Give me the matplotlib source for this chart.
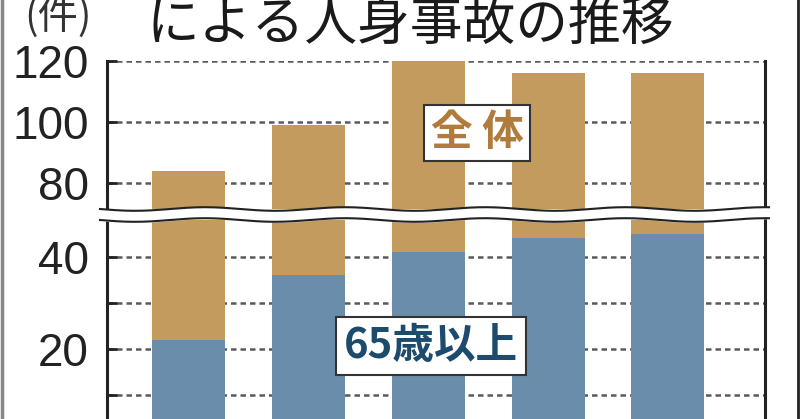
#!/usr/bin/env python3
# 高齢ドライバーによる人身事故の推移 (broken y axis, stacked bars)
import numpy as np
import matplotlib
matplotlib.use('Agg')
import matplotlib.pyplot as plt

plt.rcParams['font.family'] = ['Noto Sans CJK JP', 'DejaVu Sans']

# data
positions = [0, 1, 2, 3, 4]
total = [84, 99, 120, 116, 116]
seniors = [22, 36, 41, 44, 45]
upper_ticks = [80, 100, 120]
lower_ticks = [0, 10, 20, 30, 40]
lower_labels = ['', '', '20', '', '40']

tan = '#c49b5f'
blue = '#6a8dab'
num_font = ['Liberation Sans', 'DejaVu Sans']

W, H = 800, 419
fig = plt.figure(figsize=(8, 4.19), dpi=100)

def px_axes(x0, y0, x1, y1):
    # pixel box (top-left origin) -> figure fraction
    return [x0 / W, 1 - y1 / H, (x1 - x0) / W, (y1 - y0) / H]

ax_top = fig.add_axes(px_axes(107, 61, 765, 209))
ax_bot = fig.add_axes(px_axes(107, 220, 765, 441))

for ax in (ax_top, ax_bot):
    ax.bar(positions, seniors, width=0.61, color=blue, zorder=2)
    ax.bar(positions, np.array(total) - np.array(seniors), bottom=seniors,
           width=0.61, color=tan, zorder=2)
    ax.set_xlim(-0.68, 4.81)
    ax.set_xticks([])
    ax.spines['top'].set_visible(False)
    ax.spines['bottom'].set_visible(False)
    for s in ('left', 'right'):
        ax.spines[s].set_linewidth(2.2)
        ax.spines[s].set_color('#222222')
    ax.grid(axis='y', color='#5a5a5a', linestyle=(0, (2.2, 1.6)), linewidth=1.8, zorder=1)
    ax.tick_params(axis='y', direction='in', length=7, width=2, color='#222222',
                   pad=13, labelsize=33)
    ax.set_facecolor('none')

ax_top.set_ylim(71.5, 120)
ax_top.set_yticks(upper_ticks)
ax_top.set_yticklabels([str(v) for v in upper_ticks])
ax_bot.set_ylim(0, 48)
ax_bot.set_yticks(lower_ticks)
ax_bot.set_yticklabels(lower_labels)
for ax in (ax_top, ax_bot):
    for lab in ax.get_yticklabels():
        lab.set_fontfamily(num_font)
        lab.set_color('#222222')

# overlay in pixel coordinates for the break, labels and frame
ov = fig.add_axes([0, 0, 1, 1], zorder=10)
ov.set_xlim(0, W)
ov.set_ylim(H, 0)
ov.axis('off')
ov.patch.set_alpha(0)

xs = np.linspace(100, 769, 300)
wave = 209 + 1.8 * np.sin(2 * np.pi * (xs - 100) / 140)
ov.fill_between(xs, wave, wave + 11, color='white', zorder=1)
ov.plot(xs, wave, color='#222222', lw=1.5, zorder=2)
ov.plot(xs, wave + 11, color='#222222', lw=1.5, zorder=2)

# frame edges
ov.plot([1.5, 1.5], [0, H], color='#888888', lw=2.5)
ov.plot([798, 798], [0, H], color='#222222', lw=2)

# title line is cropped at the top edge, as in the source image
ov.text(146, 40, 'による人身事故の推移', fontsize=38, color='#1a1a1a',
        ha='left', va='baseline')
ov.text(58, 30, '(件)', fontsize=29, color='#333333', ha='center', va='baseline')

ov.text(477, 133, '全 体', fontsize=30, fontweight='bold', color='#b07c3e',
        ha='center', va='center',
        bbox=dict(boxstyle='square,pad=0.17', fc='white', ec='#333333', lw=1.5))
ov.text(431, 346, '65歳以上', fontsize=30, fontweight='bold', color='#1d4b6d',
        ha='center', va='center',
        bbox=dict(boxstyle='square,pad=0.2', fc='white', ec='#333333', lw=1.5))

fig.savefig('out.png', dpi=100)
